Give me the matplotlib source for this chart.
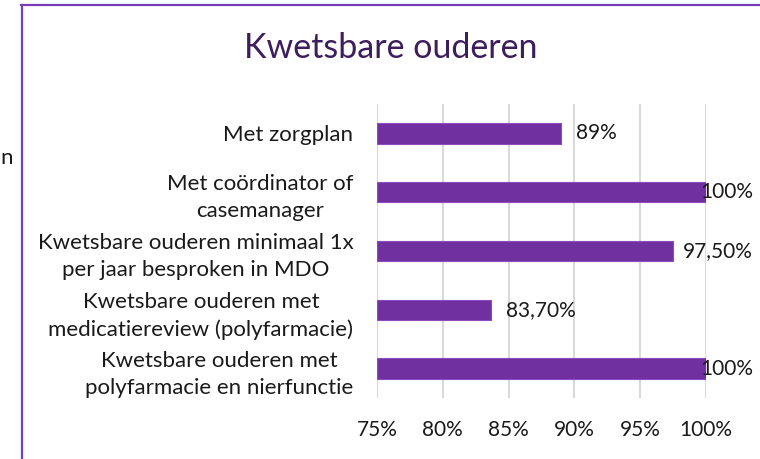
import matplotlib
matplotlib.use("Agg")
import matplotlib.pyplot as plt
from matplotlib.lines import Line2D

categories = [
    "Met zorgplan",
    "Met coördinator of\ncasemanager",
    "Kwetsbare ouderen minimaal 1x\nper jaar besproken in MDO",
    "Kwetsbare ouderen met\nmedicatiereview (polyfarmacie)",
    "Kwetsbare ouderen met\npolyfarmacie en nierfunctie",
]
values = [89, 100, 97.5, 83.7, 100]
value_labels = ["89%", "100%", "97,50%", "83,70%", "100%"]
xticks = [75, 80, 85, 90, 95, 100]
xtick_labels = ["75%", "80%", "85%", "90%", "95%", "100%"]
title = "Kwetsbare ouderen"

FONT = "Lato"
W, H = 760, 459
fig = plt.figure(figsize=(W / 100, H / 100), dpi=100)
ax = fig.add_axes([377 / W, 1 - 398 / H, (706 - 377) / W, (398 - 104) / H])

bar_color = "#7030A0"
ypos = list(range(len(categories)))
ax.barh(ypos, [v - 75 for v in values], left=75, height=0.35, color=bar_color,
        edgecolor="#8A4CC0", linewidth=0.8, zorder=3)
ax.set_xlim(75, 100)
ax.set_ylim(len(categories) - 0.5, -0.5)
ax.set_xticks(xticks)
ax.set_xticklabels(xtick_labels, fontsize=15, family=FONT, color="#1a1a1a")
ax.set_yticks(ypos)
ax.set_yticklabels(categories, fontsize=16, family=FONT, color="#1a1a1a",
                   multialignment="center", linespacing=1.45)
ax.tick_params(axis="x", length=0, pad=16)
ax.tick_params(axis="y", length=0, pad=17)
for s in ax.spines.values():
    s.set_visible(False)
ax.grid(axis="x", color="#D9D9D9", linewidth=1.5, zorder=0)
ax.set_axisbelow(True)

fig.canvas.draw()
renderer = fig.canvas.get_renderer()
OFF = 15
for y, v, lab in zip(ypos, values, value_labels):
    t = ax.annotate(lab, xy=(v, y), xytext=(OFF, 0), textcoords="offset pixels",
                    ha="left", va="center", fontsize=15, family=FONT,
                    color="#1a1a1a", zorder=4, annotation_clip=False)
    bb = t.get_window_extent(renderer)
    if bb.x1 > 753:
        t.set_position((OFF - (bb.x1 - 753), 0))

fig.text(391 / W, 1 - 48 / H, title, ha="center", va="center", fontsize=24.5,
         family=FONT, color="#3D1D5C")

fig.text(0, 1 - 158 / H, "n", ha="left", va="center", fontsize=16,
         family=FONT, color="#1a1a1a")

border = "#7A3DB8"
fig.add_artist(Line2D([21.5 / W, 21.5 / W], [0, 1 - 5 / H], transform=fig.transFigure,
                      color=border, linewidth=1.6))
fig.add_artist(Line2D([21 / W, 1], [1 - 5 / H, 1 - 5 / H], transform=fig.transFigure,
                      color=border, linewidth=1.6))

fig.savefig("out.png", dpi=100, facecolor="white")
